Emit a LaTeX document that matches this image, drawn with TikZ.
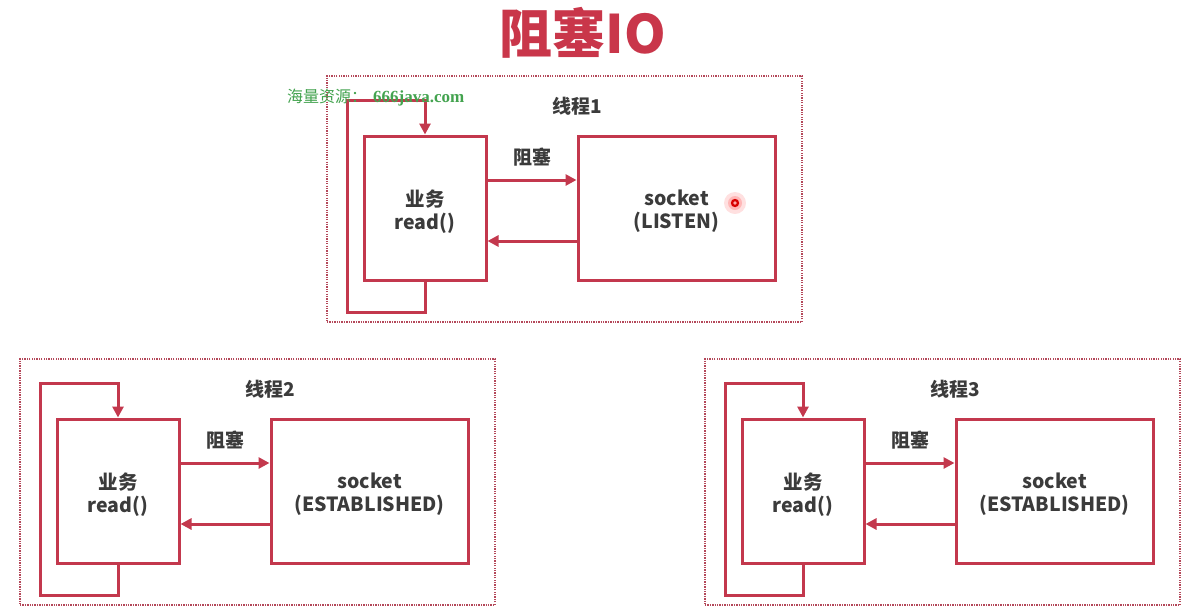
\documentclass[tikz,border=0pt]{standalone}
\usepackage{fontspec}
\usetikzlibrary{arrows.meta}
\newfontfamily\cjk{Noto Sans CJK SC}
\newfontfamily\wmserif{Liberation Serif}
\definecolor{boxred}{HTML}{C3384D}
\definecolor{titlered}{HTML}{C9364A}
\definecolor{framered}{HTML}{B4485A}
\definecolor{ink}{HTML}{3B3B3B}
\definecolor{wmgreen}{HTML}{43A34F}

% lower a line of box text a little without changing its reported size
\newcommand\lowline[1]{\raisebox{-3.5pt}[\height][\depth]{#1}}

\tikzset{
  frame/.style={draw=framered, line width=1.3pt, dash pattern=on 1.3pt off 1.1pt,
                minimum width=475pt, minimum height=246pt, inner sep=0pt},
  unit/.style={draw=boxred, line width=3pt, inner sep=0pt, align=center,
               minimum height=144pt, font=\cjk\bfseries\fontsize{19.5}{23}\selectfont, text=ink},
  label/.style={font=\cjk\bfseries\fontsize{19}{22}\selectfont, text=ink, inner sep=0pt},
  arr/.style={draw=boxred, line width=3pt, line join=miter,
              -{Triangle[length=11pt,width=11pt]}}
}

% One thread: frame, business box, socket box, blocking arrows and read loop
\newcommand\threadgroup[4]{%
  \begin{scope}[shift={(#1,#2)}]
    \node[frame] (frame#3) at (257.5,482) {};
    \node[unit, minimum width=122pt] (biz#3) at (118,491) {\lowline{业务}\\\lowline{read()}};
    \node[unit, minimum width=197pt] (sock#3) at (369.5,491) {\lowline{socket}\\\lowline{(#4)}};
    \node[label] (title#3) at (270,389.5) {线程#3};
    \node[label] (block#3) at (225,440) {阻塞};
    \draw[arr] ([yshift=28pt]biz#3.east) -- ([yshift=28pt]sock#3.west);
    \draw[arr] ([yshift=-33pt]sock#3.west) -- ([yshift=-33pt]biz#3.east);
    \coordinate (lowturn#3) at (40,595);
    \coordinate (topturn#3) at (118,383);
    \draw[arr] (biz#3.south) |- (lowturn#3) |- (topturn#3) -- (biz#3.north);
  \end{scope}}

\begin{document}
\begin{tikzpicture}[x=1pt,y=-1pt]
  \useasboundingbox[fill=white] (0,0) rectangle (1186,614);

  \node[font=\cjk\bfseries\fontsize{53}{56}\selectfont, text=titlered, inner sep=0pt]
    (heading) at (583,33) {阻塞IO};

  \threadgroup{307}{-283}{1}{LISTEN}
  \threadgroup{0}{0}{2}{ESTABLISHED}
  \threadgroup{685}{0}{3}{ESTABLISHED}

  % site mark
  \node[text=wmgreen, inner sep=0pt, anchor=west] (sitemark) at (287,98)
    {\cjk\fontsize{16}{18}\selectfont 海量资源：\hspace{6pt}\wmserif\bfseries\fontsize{17}{18}\selectfont 666java.com};

  % pointer dot
  \fill[red, opacity=0.12] (735,203) circle (11pt);
  \fill[red, opacity=0.18] (735,203) circle (7pt);
  \fill[red!85!black] (735,203) circle (4.2pt);
  \fill[red!35] (735,203) circle (1.8pt);
\end{tikzpicture}
\end{document}
